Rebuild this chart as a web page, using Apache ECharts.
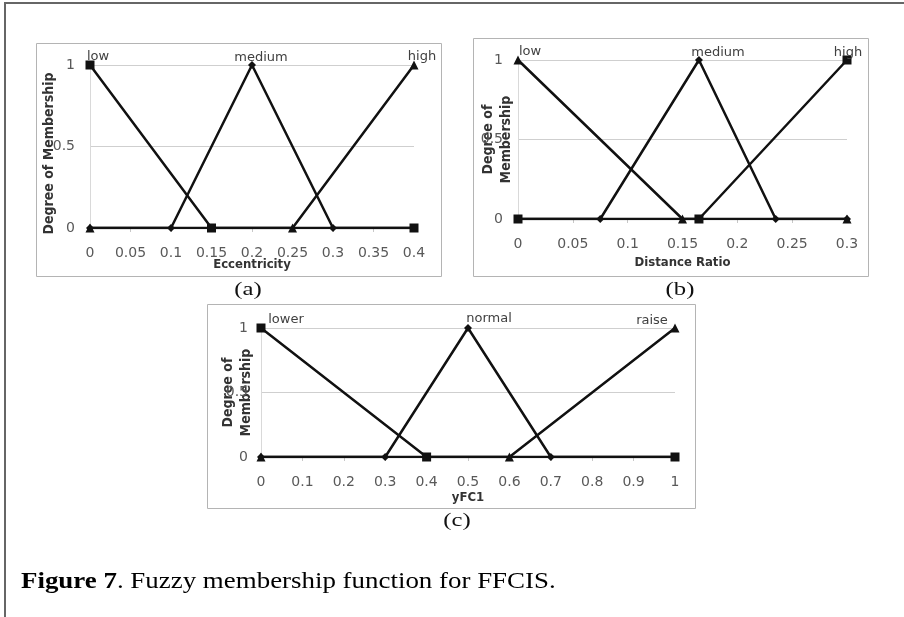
<!DOCTYPE html>
<html>
<head>
<meta charset="utf-8">
<title>Figure 7</title>
<script src="https://cdn.jsdelivr.net/npm/echarts@6/dist/echarts.min.js"></script>
<style>
  html, body { margin: 0; padding: 0; background: #fff; }
  #chart { width: 904px; height: 617px; }
</style>
</head>
<body>
<div id="chart"></div>
<script>
// (a) eccentricity
const eccLow = [[0, 1], [0.15, 0], [0.4, 0]];
const eccMedium = [[0, 0], [0.1, 0], [0.2, 1], [0.3, 0], [0.4, 0]];
const eccHigh = [[0, 0], [0.25, 0], [0.4, 1]];
const eccNames = ['low', 'medium', 'high'];

// (b) distance ratio
const distLow = [[0, 1], [0.15, 0], [0.3, 0]];
const distMedium = [[0, 0], [0.075, 0], [0.165, 1], [0.235, 0], [0.3, 0]];
const distHigh = [[0, 0], [0.165, 0], [0.3, 1]];
const distNames = ['low', 'medium', 'high'];

// (c) yFC1
const yfcLower = [[0, 1], [0.4, 0], [1, 0]];
const yfcNormal = [[0, 0], [0.3, 0], [0.5, 1], [0.7, 0], [1, 0]];
const yfcRaise = [[0, 0], [0.6, 0], [1, 1]];
const yfcNames = ['lower', 'normal', 'raise'];

const xMaxes = [0.4, 0.3, 1];
const xSteps = [0.05, 0.05, 0.1];
const xTitles = ['Eccentricity', 'Distance Ratio', 'yFC1'];
const yTitles = ['Degree of Membership', 'Degree of\nMembership', 'Degree of\nMembership'];
const panelTags = ['(a)', '(b)', '(c)'];
const captionBold = 'Figure 7';
const captionRest = '. Fuzzy membership function for FFCIS.';

const chart = echarts.init(document.getElementById('chart'), null, { renderer: 'canvas' });

const sansFont = '"DejaVu Sans", sans-serif';
const titleFont = '"DejaVu Sans Condensed", "DejaVu Sans", sans-serif';
const serifFont = 'Liberation Serif';

// layout of the three panels
const panels = [
  {
    grid: { left: 90, top: 65, width: 324, height: 163 },
    box: [36, 43, 405, 233],
    tag: [248, 290],
    xNameGap: 30, yNameGap: 32, yLabelMargin: 15, yTitleSize: 14, yTitlePad: [0, 14, 0, 0],
    series: [eccLow, eccMedium, eccHigh],
    names: eccNames,
    symbols: ['rect', 'diamond', 'triangle'],
    offsets: [[8, 5], [9, 5], [8, 5]]
  },
  {
    grid: { left: 518, top: 60, width: 329, height: 159 },
    box: [473, 38, 395, 238],
    tag: [680, 290],
    xNameGap: 37, yNameGap: 3, yLabelMargin: 15, yTitleSize: 14, yTitlePad: 0,
    series: [distLow, distMedium, distHigh],
    names: distNames,
    symbols: ['triangle', 'diamond', 'rect'],
    offsets: [[12, 5], [19, 5], [1, 6]]
  },
  {
    grid: { left: 261, top: 328, width: 414, height: 129 },
    box: [207, 304, 488, 204],
    tag: [457, 521],
    xNameGap: 34, yNameGap: 6, yLabelMargin: 13, yTitleSize: 14, yTitlePad: 0,
    series: [yfcLower, yfcNormal, yfcRaise],
    names: yfcNames,
    symbols: ['rect', 'diamond', 'triangle'],
    offsets: [[25, 5], [21, 3], [-23, 6]]
  }
];

const symbolSizes = { rect: 9, diamond: 8, triangle: 9 };

const grids = [];
const xAxes = [];
const yAxes = [];
const series = [];
const graphics = [];

panels.forEach((p, i) => {
  grids.push(p.grid);

  xAxes.push({
    type: 'value',
    gridIndex: i,
    min: 0,
    max: xMaxes[i],
    interval: xSteps[i],
    name: xTitles[i],
    nameLocation: 'middle',
    nameGap: p.xNameGap,
    nameMoveOverlap: false,
    nameTextStyle: { fontFamily: titleFont, fontWeight: 'bold', fontSize: 13, color: '#333' },
    axisLine: { show: true, lineStyle: { color: '#bfbfbf', width: 1 } },
    axisTick: { show: true, length: 4, lineStyle: { color: '#c8c8c8' } },
    axisLabel: {
      fontFamily: sansFont, fontSize: 14, color: '#595959', margin: 18,
      formatter: v => String(+v.toFixed(3))
    },
    splitLine: { show: false }
  });

  yAxes.push({
    type: 'value',
    gridIndex: i,
    min: 0,
    max: 1,
    interval: 0.5,
    name: yTitles[i],
    nameLocation: 'middle',
    nameRotate: 90,
    nameGap: p.yNameGap,
    nameMoveOverlap: false,
    nameTextStyle: {
      fontFamily: titleFont, fontWeight: 'bold', fontSize: p.yTitleSize,
      color: '#333', lineHeight: 18, padding: p.yTitlePad
    },
    axisLine: { show: true, lineStyle: { color: '#d9d9d9', width: 1 } },
    axisTick: { show: false },
    axisLabel: { fontFamily: sansFont, fontSize: 14, color: '#595959', margin: p.yLabelMargin },
    splitLine: { show: true, lineStyle: { color: '#cfcfcf', width: 1 } }
  });

  p.series.forEach((pts, k) => {
    const sym = p.symbols[k];
    series.push({
      type: 'line',
      name: p.names[k],
      xAxisIndex: i,
      yAxisIndex: i,
      symbol: sym,
      symbolSize: symbolSizes[sym],
      showAllSymbol: true,
      lineStyle: { color: '#111', width: 2.5 },
      itemStyle: { color: '#111' },
      z: 3,
      data: pts.map(pt => pt[1] === 1 ? {
        value: pt,
        label: {
          show: true,
          formatter: p.names[k],
          position: 'top',
          distance: 2,
          offset: p.offsets[k],
          fontFamily: sansFont,
          fontSize: 13,
          color: '#404040'
        }
      } : pt)
    });
  });

  graphics.push({
    type: 'rect',
    shape: { x: p.box[0] + 0.5, y: p.box[1] + 0.5, width: p.box[2], height: p.box[3] },
    style: { fill: null, stroke: '#b4b4b4', lineWidth: 1 },
    silent: true,
    z: -1
  });

  graphics.push({
    type: 'text',
    x: p.tag[0],
    y: p.tag[1],
    scaleX: 1.3,
    style: {
      text: panelTags[i],
      fontFamily: serifFont,
      fontSize: 19,
      fill: '#111',
      textAlign: 'center',
      textVerticalAlign: 'middle'
    },
    silent: true
  });
});

// outer frame of the figure (top and left edges only)
graphics.push({
  type: 'polyline',
  shape: { points: [[5, 617], [5, 3], [904, 3]] },
  style: { fill: null, stroke: '#666', lineWidth: 2 },
  silent: true
});

graphics.push({
  type: 'text',
  x: 21,
  y: 582,
  scaleX: 1.17,
  style: {
    text: '{b|' + captionBold + '}' + captionRest,
    fontFamily: serifFont,
    fontSize: 23,
    fill: '#000',
    textVerticalAlign: 'middle',
    rich: {
      b: { fontFamily: serifFont, fontSize: 23, fontWeight: 'bold', fill: '#000' }
    }
  },
  silent: true
});

chart.setOption({
  animation: false,
  backgroundColor: '#fff',
  grid: grids,
  xAxis: xAxes,
  yAxis: yAxes,
  series: series,
  graphic: graphics
});
</script>
</body>
</html>
